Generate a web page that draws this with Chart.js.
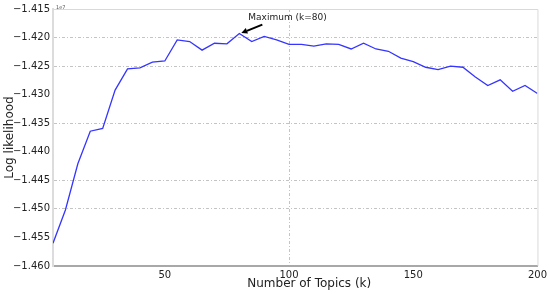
<!DOCTYPE html>
<html>
<head>
<meta charset="utf-8">
<script src="https://cdn.jsdelivr.net/npm/chart.js@4/dist/chart.umd.min.js"></script>
<style>
html,body{margin:0;padding:0;background:#fff;}
#wrap{width:550px;height:294px;position:relative;}
</style>
</head>
<body>
<div id="wrap"><canvas id="c" width="550" height="294"></canvas></div>
<script>
// Number of topics k
const topics = [5,10,15,20,25,30,35,40,45,50,55,60,65,70,75,80,85,90,95,100,
  105,110,115,120,125,130,135,140,145,150,155,160,165,170,175,180,185,190,195,200];
// Log likelihood (x 1e7)
const logLik = [-1.4560,-1.4502,-1.4421,-1.4364,-1.4359,-1.4292,-1.4255,-1.4253,-1.4243,-1.4241,
  -1.4204,-1.4207,-1.4222,-1.4210,-1.4211,-1.4193,-1.4207,-1.4198,-1.4204,-1.4212,
  -1.4212,-1.4215,-1.4211,-1.4212,-1.4220,-1.4210,-1.4220,-1.4224,-1.4236,-1.4242,
  -1.4252,-1.4256,-1.4250,-1.4252,-1.4269,-1.4284,-1.4274,-1.4294,-1.4284,-1.4298];
const xTicks = [50,100,150,200];
const yTicks = [-1.460,-1.455,-1.450,-1.445,-1.440,-1.435,-1.430,-1.425,-1.420,-1.415];
// gridlines visible in the reference
const yGridShown = [-1.420,-1.425,-1.435,-1.445,-1.450];
const xGridShown = [100];
const maxK = 80;
const maxLabel = 'Maximum (k=80)';
const offsetLabel = '1e7';
const xTitle = 'Number of Topics (k)';

const near = (a,b)=>Math.abs(a-b)<1e-6;
const fmt = v => v.toFixed(3).replace('-', '\u2212');

const extras = {
  id:'extras',
  afterDraw(chart){
    const {ctx, chartArea:a, scales:{x,y}} = chart;
    ctx.save();
    // top/right frame
    ctx.strokeStyle = '#d9d9d9';
    ctx.lineWidth = 1;
    ctx.beginPath();
    ctx.moveTo(a.left, a.top+0.5); ctx.lineTo(a.right+0.5, a.top+0.5); ctx.lineTo(a.right+0.5, a.bottom);
    ctx.stroke();
    // offset label
    ctx.fillStyle = '#555';
    ctx.font = '5px "DejaVu Sans"';
    ctx.textBaseline = 'bottom';
    ctx.fillText(offsetLabel, a.left+3, a.top+1);
    // x title
    ctx.fillStyle = '#222';
    ctx.font = '12px "DejaVu Sans"';
    ctx.textAlign = 'center';
    ctx.textBaseline = 'middle';
    ctx.fillText(xTitle, (a.left+a.right)/2+14, a.bottom+18);
    ctx.textAlign = 'left';
    // annotation
    const i = topics.indexOf(maxK);
    const px = x.getPixelForValue(maxK), py = y.getPixelForValue(logLik[i]);
    ctx.fillStyle = '#222';
    ctx.font = '9px "DejaVu Sans"';
    ctx.textBaseline = 'alphabetic';
    ctx.fillText(maxLabel, px+9, py-14);
    // arrow
    const sx = px+23, sy = py-9;
    const ex = px+2, ey = py-0.5;
    ctx.strokeStyle = '#000'; ctx.fillStyle='#000';
    ctx.lineWidth = 2;
    const ang = Math.atan2(ey-sy, ex-sx);
    const hl = 6, hw = 3;
    const bx = ex - hl*Math.cos(ang), by = ey - hl*Math.sin(ang);
    ctx.beginPath(); ctx.moveTo(sx,sy); ctx.lineTo(bx,by); ctx.stroke();
    ctx.beginPath();
    ctx.moveTo(ex,ey);
    ctx.lineTo(bx + hw*Math.sin(ang), by - hw*Math.cos(ang));
    ctx.lineTo(bx - hw*Math.sin(ang), by + hw*Math.cos(ang));
    ctx.closePath(); ctx.fill();
    ctx.restore();
  }
};

new Chart(document.getElementById('c'), {
  type:'line',
  data:{
    datasets:[{
      data: topics.map((k,i)=>({x:k,y:logLik[i]})),
      borderColor:'#3535ff',
      borderWidth:1.3,
      pointRadius:0,
      tension:0,
      fill:false
    }]
  },
  options:{
    responsive:false,
    animation:false,
    events:[],
    layout:{padding:{top:9,right:12,left:0,bottom:0}},
    plugins:{legend:{display:false},tooltip:{enabled:false}},
    scales:{
      x:{
        type:'linear', min:5, max:200,
        afterBuildTicks: s => { s.ticks = xTicks.map(v=>({value:v})); },
        afterFit: s => { s.height = 28; },
        ticks:{color:'#222', font:{family:'DejaVu Sans', size:10}, padding:3, maxRotation:0},
        grid:{
          drawTicks:false,
          color: c => xGridShown.some(v=>near(v,c.tick.value)) ? '#c4c4c4' : 'rgba(0,0,0,0)',
          lineWidth:1
        },
        border:{display:true, color:'#a8a8a8', width:2, dash:[3,2,1,2]},
        title:{display:false}
      },
      y:{
        type:'linear', min:-1.460, max:-1.415,
        afterBuildTicks: s => { s.ticks = yTicks.map(v=>({value:v})); },
        afterFit: s => { s.width = 53; },
        ticks:{color:'#222', font:{family:'DejaVu Sans', size:10}, padding:3, callback:v=>fmt(v)},
        grid:{
          drawTicks:false,
          color: c => yGridShown.some(v=>near(v,c.tick.value)) ? '#c4c4c4' : 'rgba(0,0,0,0)',
          lineWidth:1
        },
        border:{display:true, color:'#dcdcdc', width:2, dash:[3,2,1,2]},
        title:{display:true, text:'Log likelihood', color:'#222',
          font:{family:'DejaVu Sans', size:12}, padding:{top:3,bottom:0}}
      }
    }
  },
  plugins:[extras]
});
</script>
</body>
</html>
